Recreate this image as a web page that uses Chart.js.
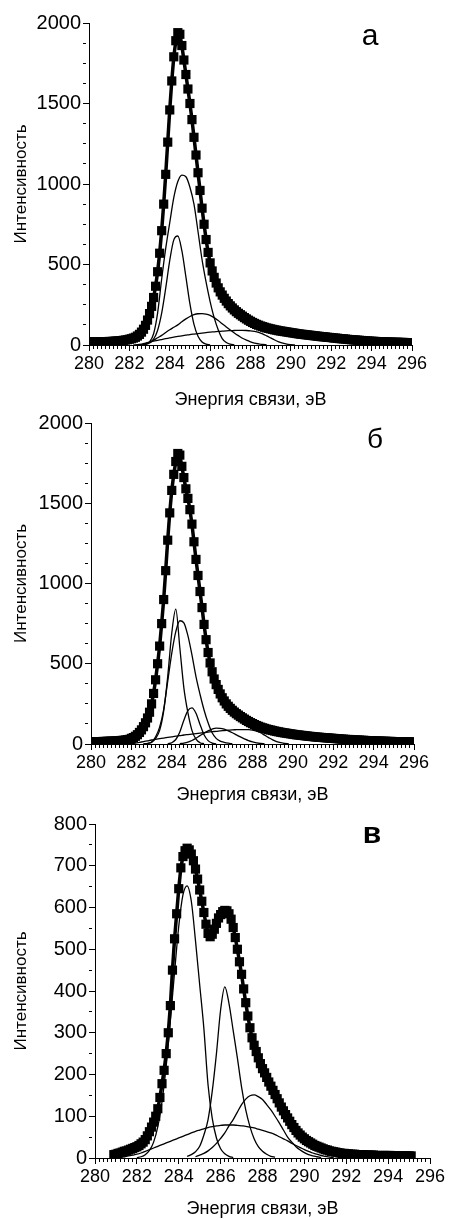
<!DOCTYPE html>
<html>
<head>
<meta charset="utf-8">
<script src="https://cdn.jsdelivr.net/npm/chart.js@4.4.0/dist/chart.umd.min.js"></script>
<style>
  body { margin: 0; background: #fff; width: 449px; height: 1220px; position: relative; overflow: hidden; }
  canvas { position: absolute; left: 0; }
</style>
</head>
<body>
<canvas id="chartA" width="449" height="415" style="top:0px"></canvas>
<canvas id="chartB" width="449" height="410" style="top:400px"></canvas>
<canvas id="chartC" width="449" height="420" style="top:800px"></canvas>
<script>
// axis texts
var xTitle = 'Энергия связи, эВ';
var yTitle = 'Интенсивность';

// measured points are every 0.1 eV, fitted peaks are listed every 0.2 eV
var envStep = 0.1;
var peakStep = 0.2;

// ---- panel а ----
var envStartA = 280.0;
var envelopeA = [
  20, 20, 19, 19, 19, 20, 20, 20, 21, 21,
  22, 22, 23, 24, 25, 26, 27, 29, 31, 33,
  36, 39, 43, 48, 56, 66, 80, 98, 122, 155,
  195, 240, 295, 365, 455, 570, 710, 875, 1060, 1260,
  1460, 1640, 1790, 1890, 1940, 1930, 1860, 1770, 1680, 1590,
  1500, 1400, 1290, 1180, 1070, 960, 850, 750, 655, 575,
  510, 460, 420, 385, 355, 330, 310, 290, 273, 257,
  243, 230, 218, 207, 197, 188, 179, 170, 162, 154,
  147, 140, 134, 128, 123, 118, 114, 110, 106, 103,
  100, 97, 94, 92, 89, 87, 85, 83, 81, 79,
  77, 75, 73, 71, 69, 67, 66, 64, 63, 61,
  60, 58, 57, 55, 54, 52, 51, 50, 48, 47,
  46, 44, 43, 42, 40, 39, 38, 37, 35, 34,
  33, 32, 31, 30, 29, 28, 27, 26, 25, 24,
  23, 23, 22, 21, 21, 20, 20, 19, 19, 18,
  18, 17, 17, 17, 16, 16, 16, 15, 15, 15,
  15
];
var peakA1Start = 282.6;
var peakA1 = [1, 3, 12, 36, 92, 198, 353, 526, 653, 677, 586, 423, 255, 128, 54, 19, 5, 1];
var peakA2Start = 282.6;
var peakA2 = [1, 5, 20, 70, 200, 410, 600, 760, 915, 1015, 1055, 1045, 980, 875, 705, 530, 390, 270, 170, 95, 40, 15, 5, 1];
var peakA3Start = 282.6;
var peakA3 = [3, 8, 18, 30, 45, 60, 78, 95, 110, 125, 145, 162, 177, 188, 194, 195, 192, 184, 170, 152, 132, 112, 93, 75, 58, 42, 30, 20, 12, 7, 3, 1];
var peakA4Start = 282.2;
var peakA4 = [0, 2, 6, 12, 18, 24, 29, 34, 39, 44, 49, 53, 57, 61, 65, 68, 71, 74, 77, 80, 82, 84, 86, 88, 89, 90, 91, 91, 90, 88, 84, 78, 69, 57, 44, 31, 20, 11, 5, 2, 0];

// ---- panel б ----
var envStartB = 280.0;
var envelopeB = [
  14, 14, 14, 15, 15, 15, 16, 16, 17, 17,
  18, 18, 19, 20, 21, 22, 23, 25, 27, 29,
  35, 40, 48, 58, 72, 88, 108, 132, 162, 198,
  250, 315, 400, 500, 610, 750, 900, 1080, 1270, 1440,
  1580, 1680, 1760, 1810, 1800, 1730, 1660, 1590, 1530, 1460,
  1370, 1260, 1150, 1050, 950, 850, 745, 650, 570, 505,
  450, 405, 370, 340, 312, 288, 268, 250, 235, 222,
  210, 199, 189, 180, 171, 163, 155, 147, 140, 133,
  127, 121, 115, 110, 105, 101, 97, 93, 90, 87,
  84, 81, 78, 76, 73, 71, 69, 67, 65, 63,
  61, 59, 57, 56, 54, 53, 51, 50, 48, 47,
  46, 44, 43, 42, 41, 40, 39, 38, 37, 36,
  35, 34, 33, 32, 31, 30, 29, 28, 28, 27,
  26, 25, 25, 24, 23, 23, 22, 21, 21, 20,
  20, 19, 19, 18, 18, 17, 17, 16, 16, 16,
  15, 15, 15, 14, 14, 14, 13, 13, 13, 13,
  12
];
var peakB1Start = 282.6;
var peakB1 = [1, 4, 10, 35, 85, 205, 420, 690, 840, 600, 350, 195, 85, 30, 8, 2];
var peakB2Start = 282.6;
var peakB2 = [1, 3, 12, 45, 105, 215, 390, 565, 700, 768, 755, 675, 555, 420, 310, 212, 132, 70, 35, 18, 10, 5, 2];
var peakB3Start = 283.8;
var peakB3 = [2, 8, 28, 75, 148, 208, 225, 192, 122, 58, 21, 6, 1];
var peakB4Start = 284.4;
var peakB4 = [2, 6, 12, 22, 36, 52, 68, 82, 93, 99, 98, 92, 82, 70, 57, 44, 32, 21, 13, 7, 3, 1];
var peakB5Start = 282.0;
var peakB5 = [2, 5, 10, 15, 20, 25, 29, 33, 37, 41, 45, 49, 52, 56, 59, 62, 65, 68, 71, 74, 77, 79, 82, 84, 86, 88, 89, 90, 90, 89, 86, 80, 70, 55, 40, 26, 15, 8, 3, 1];

// ---- panel в ----
var envStartC = 280.9;
var envelopeC = [
  8,
  9, 11, 12, 14, 16, 17, 19, 21, 23, 25,
  27, 30, 34, 38, 44, 53, 63, 74, 86, 100,
  118, 145, 178, 210, 250, 300, 365, 450, 525, 585,
  645, 695, 722, 736, 742, 738, 728, 712, 692, 668,
  642, 615, 588, 560, 538, 530, 536, 548, 562, 575,
  583, 590, 593, 592, 585, 572, 552, 528, 500, 470,
  440, 405, 372, 340, 312, 288, 270, 255, 240, 226,
  214, 204, 193, 182, 172, 162, 152, 142, 132, 122,
  113, 104, 96, 88, 80, 73, 66, 60, 55, 50,
  46, 42, 39, 36, 33, 30, 28, 26, 24, 22,
  20, 19, 17, 16, 15, 14, 13, 12, 11, 11,
  10, 10, 9, 9, 9, 8, 8, 8, 8, 7,
  7, 7, 7, 7, 6, 6, 6, 6, 6, 6,
  6, 6, 5, 5, 5, 5, 5, 5, 5, 5,
  5, 5
];
var peakC1Start = 282.0;
var peakC1 = [1, 3, 8, 18, 38, 75, 135, 220, 330, 445, 555, 630, 652, 615, 520, 415, 310, 175, 95, 48, 22, 10, 4, 1];
var peakC2Start = 284.4;
var peakC2 = [4, 8, 15, 28, 55, 92, 160, 250, 355, 410, 370, 305, 240, 170, 115, 75, 46, 27, 16, 9, 4, 2];
var peakC3Start = 284.8;
var peakC3 = [3, 7, 11, 17, 25, 35, 47, 60, 77, 92, 110, 128, 141, 149, 151, 147, 140, 128, 115, 100, 84, 67, 50, 38, 27, 19, 13, 8, 5, 3, 1];
var peakC4Start = 281.4;
var peakC4 = [3, 5, 7, 9, 12, 16, 20, 24, 28, 32, 36, 40, 44, 48, 52, 56, 60, 64, 67, 70, 73, 75, 77, 78, 79, 79, 79, 78, 77, 76, 74, 72, 69, 66, 63, 60, 56, 51, 46, 41, 35, 30, 25, 20, 16, 12, 9, 6, 4, 2, 1];

Chart.defaults.font.family = '"Liberation Sans", Arial, sans-serif';
Chart.defaults.color = '#000';

function series(start, step, values) {
  return values.map(function (v, i) {
    return { x: Math.round((start + i * step) * 100) / 100, y: v };
  });
}

function isMult(v, m) {
  return Math.abs(v / m - Math.round(v / m)) < 1e-6;
}

// panel letter inside the plot
var panelLetter = {
  id: 'panelLetter',
  afterDraw: function (chart, args, opts) {
    var ctx = chart.ctx, area = chart.chartArea;
    ctx.save();
    ctx.font = (opts.bold ? 'bold ' : '') + opts.size + 'px "Liberation Sans", Arial, sans-serif';
    ctx.fillStyle = '#000';
    ctx.textAlign = 'center';
    ctx.textBaseline = 'alphabetic';
    ctx.fillText(opts.text, area.right - opts.dx, area.top + opts.dy);
    ctx.restore();
  }
};

function drawPanel(id, p) {
  var datasets = [{
    data: series(p.envStart, envStep, p.envelope),
    borderColor: '#000',
    backgroundColor: '#000',
    borderWidth: 3.5,
    pointStyle: 'rect',
    pointRadius: 6.5,
    pointHoverRadius: 6.5,
    pointBorderWidth: 0,
    order: 0
  }];
  p.peaks.forEach(function (pk) {
    datasets.push({
      data: series(pk[0], peakStep, pk[1]),
      borderColor: '#000',
      borderWidth: 1.3,
      pointRadius: 0,
      cubicInterpolationMode: 'monotone',
      order: 1
    });
  });

  new Chart(document.getElementById(id), {
    type: 'line',
    data: { datasets: datasets },
    plugins: [panelLetter],
    options: {
      responsive: false,
      animation: false,
      devicePixelRatio: 1,
      events: [],
      layout: { padding: { top: p.padTop, right: p.padRight, left: 0, bottom: 0 } },
      plugins: {
        legend: { display: false },
        tooltip: { enabled: false },
        panelLetter: p.letter
      },
      scales: {
        x: {
          type: 'linear',
          min: 280,
          max: 296,
          ticks: {
            stepSize: 0.2,
            autoSkip: false,
            maxRotation: 0,
            padding: 2,
            font: { size: 18 },
            callback: function (v) { return isMult(v, 2) ? String(Math.round(v)) : ''; }
          },
          grid: {
            drawOnChartArea: false,
            tickLength: 6,
            color: '#000',
            tickColor: '#000',
            tickBorderDash: function (c) { return c.tick && isMult(c.tick.value, 2) ? [] : [3, 10]; }
          },
          border: { color: '#000', width: 1 },
          title: { display: true, text: xTitle, font: { size: 18 }, padding: { top: 0, bottom: p.xTitlePad } },
          afterFit: function (s) { s.height = p.xAxisH; }
        },
        y: {
          min: 0,
          max: p.yMax,
          ticks: {
            stepSize: p.yMinor,
            autoSkip: false,
            padding: 2,
            font: { size: 20 },
            callback: function (v) { return isMult(v, p.yMajor) ? String(v) : ''; }
          },
          grid: {
            drawOnChartArea: false,
            tickLength: 6,
            color: '#000',
            tickColor: '#000',
            tickBorderDash: function (c) { return c.tick && isMult(c.tick.value, p.yMajor) ? [] : [3, 10]; }
          },
          border: { color: '#000', width: 1 },
          title: { display: true, text: yTitle, font: { size: 17 }, padding: { top: 11, bottom: 0 } },
          afterFit: function (s) { s.width = p.yAxisW; }
        }
      }
    }
  });
}

drawPanel('chartA', {
  envStart: envStartA, envelope: envelopeA,
  peaks: [[peakA1Start, peakA1], [peakA2Start, peakA2], [peakA3Start, peakA3], [peakA4Start, peakA4]],
  yMax: 2000, yMajor: 500, yMinor: 125,
  padTop: 23, padRight: 37, yAxisW: 89, xAxisH: 70, xTitlePad: 4,
  letter: { text: 'а', size: 30, bold: false, dx: 42, dy: 22 }
});

drawPanel('chartB', {
  envStart: envStartB, envelope: envelopeB,
  peaks: [[peakB1Start, peakB1], [peakB2Start, peakB2], [peakB3Start, peakB3], [peakB4Start, peakB4], [peakB5Start, peakB5]],
  yMax: 2000, yMajor: 500, yMinor: 125,
  padTop: 23, padRight: 35, yAxisW: 91, xAxisH: 66, xTitlePad: 4,
  letter: { text: 'б', size: 28, bold: false, dx: 39, dy: 25 }
});

drawPanel('chartC', {
  envStart: envStartC, envelope: envelopeC,
  peaks: [[peakC1Start, peakC1], [peakC2Start, peakC2], [peakC3Start, peakC3], [peakC4Start, peakC4]],
  yMax: 800, yMajor: 100, yMinor: 50,
  padTop: 24, padRight: 19, yAxisW: 95, xAxisH: 62, xTitlePad: 0,
  letter: { text: 'в', size: 30, bold: true, dx: 58, dy: 19 }
});
</script>
</body>
</html>
